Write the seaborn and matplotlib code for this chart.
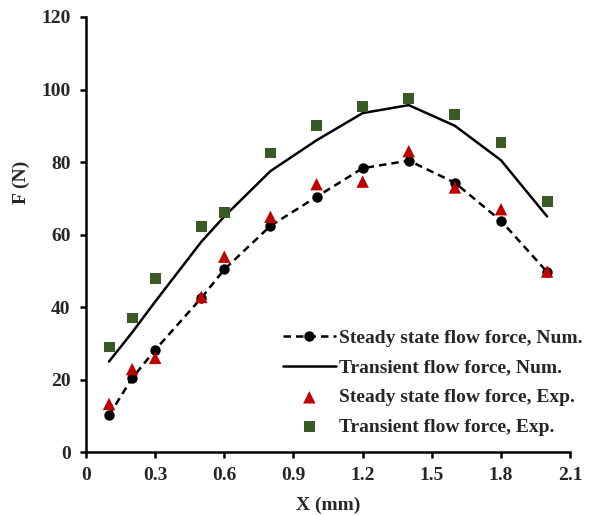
import matplotlib
matplotlib.use("Agg")
import matplotlib.pyplot as plt
import seaborn as sns

# Spool displacement (mm)
x_mm = [0.1, 0.2, 0.3, 0.5, 0.6, 0.8, 1.0, 1.2, 1.4, 1.6, 1.8, 2.0]

# Flow force (N)
steady_num = [10.2, 20.4, 28.2, 42.5, 50.4, 62.4, 70.4, 78.3, 80.4, 74.3, 63.8, 49.7]
transient_num = [25.0, 33.0, 41.5, 58.0, 65.0, 77.5, 86.0, 93.5, 95.7, 90.0, 80.5, 65.0]
steady_exp = [13.3, 22.9, 26.0, 42.8, 53.9, 64.9, 73.9, 74.6, 83.0, 73.0, 67.0, 49.8]
transient_exp = [29.0, 37.0, 48.0, 62.2, 66.2, 82.5, 90.2, 95.3, 97.5, 93.2, 85.5, 69.2]

labels = ["Steady state flow force, Num.", "Transient flow force, Num.",
          "Steady state flow force, Exp.", "Transient flow force, Exp."]
x_ticks = [0, 0.3, 0.6, 0.9, 1.2, 1.5, 1.8, 2.1]
x_tick_labels = ["0", "0.3", "0.6", "0.9", "1.2", "1.5", "1.8", "2.1"]
y_ticks = [0, 20, 40, 60, 80, 100, 120]

sns.set_style("ticks")
plt.rcParams["font.family"] = ["Liberation Serif", "DejaVu Serif"]
plt.rcParams["font.weight"] = "bold"
plt.rcParams["font.size"] = 14

fig = plt.figure(figsize=(5.89, 5.15), dpi=100)
ax = fig.add_axes([0.146, 0.122, 0.822, 0.845])

red = "#C00000"
green = "#3A5A25"

sns.lineplot(x=x_mm, y=steady_num, ax=ax, color="black", linestyle=(0, (3, 2)),
             linewidth=1.8, marker="o", markersize=7.5, markeredgewidth=0,
             label=labels[0])
sns.lineplot(x=x_mm, y=transient_num, ax=ax, color="black", linewidth=1.8,
             label=labels[1])
sns.scatterplot(x=x_mm, y=steady_exp, ax=ax, color=red, marker="^", s=80,
                edgecolor="none", label=labels[2], zorder=3)
sns.scatterplot(x=x_mm, y=transient_exp, ax=ax, color=green, marker="s", s=62,
                edgecolor="none", label=labels[3], zorder=3)

ax.set_xlim(0, 2.1)
ax.set_ylim(0, 120)
ax.set_xticks(x_ticks)
ax.set_xticklabels(x_tick_labels)
ax.set_yticks(y_ticks)
ax.set_xlabel("X (mm)", fontweight="bold", fontsize=14, labelpad=9)
ax.set_ylabel("F (N)", fontweight="bold", fontsize=14)
ax.yaxis.set_label_coords(-0.116, 0.62)

for side in ["top", "right"]:
    ax.spines[side].set_visible(False)
for side in ["left", "bottom"]:
    ax.spines[side].set_linewidth(1.8)
    ax.spines[side].set_color("black")
ax.tick_params(axis="both", direction="out", length=4, width=1.8,
               color="black", labelsize=14)
ax.tick_params(axis="y", pad=7)
ax.tick_params(axis="x", pad=7)
for t in ax.get_xticklabels() + ax.get_yticklabels():
    t.set_fontweight("bold")

leg = ax.legend(loc="upper left", bbox_to_anchor=(0.407, 0.282),
                frameon=False, fontsize=14, handlelength=2.7,
                handletextpad=0.2, labelspacing=0.62, borderaxespad=0,
                borderpad=0)
for t in leg.get_texts():
    t.set_fontweight("bold")

fig.savefig("out.png", dpi=100)
